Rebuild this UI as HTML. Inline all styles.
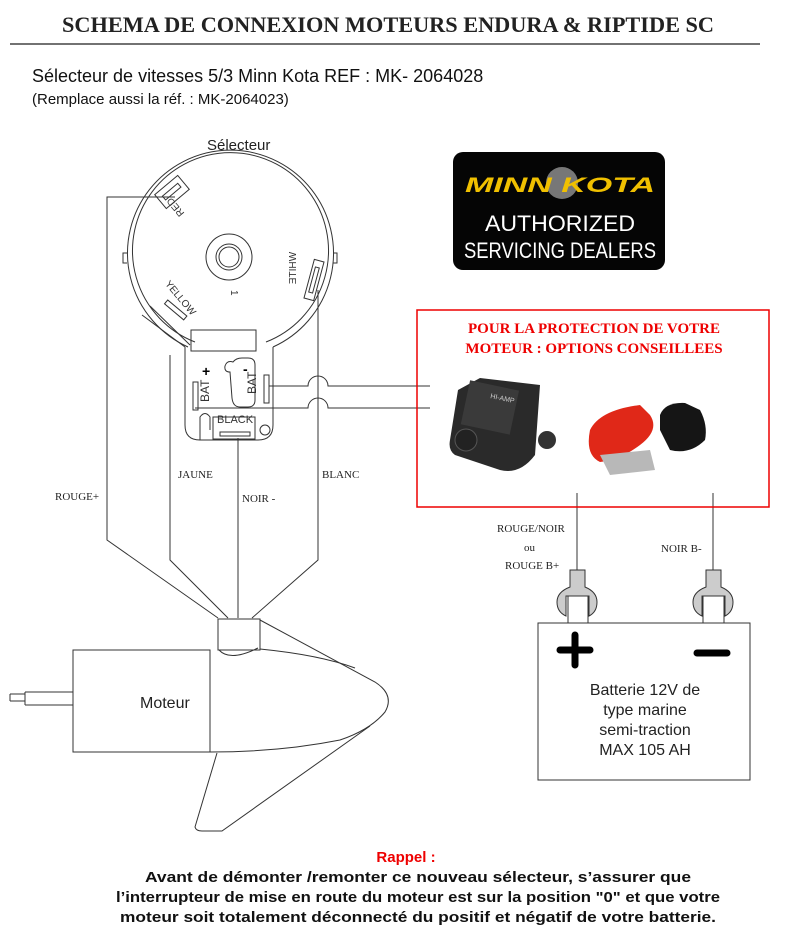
<!DOCTYPE html>
<html><head><meta charset="utf-8"><style>
body{margin:0;background:#fff;}
svg{display:block;}
.s{font-family:"Liberation Sans",sans-serif;}
.r{font-family:"Liberation Serif",serif;}
</style></head><body>
<svg width="786" height="928" viewBox="0 0 786 928" xmlns="http://www.w3.org/2000/svg">
<text x="388" y="32" text-anchor="middle" class="r" font-size="22" font-weight="bold" fill="#222" textLength="652" lengthAdjust="spacingAndGlyphs">SCHEMA DE CONNEXION MOTEURS ENDURA &amp; RIPTIDE SC</text>
<line x1="10" y1="44" x2="760" y2="44" stroke="#444" stroke-width="1.5"/>
<text x="32" y="82" class="s" font-size="18" fill="#111">Sélecteur de vitesses 5/3 Minn Kota REF : MK- 2064028</text>
<text x="32" y="104" class="s" font-size="15" fill="#111">(Remplace aussi la réf. : MK-2064023)</text>
<text x="207" y="150" class="s" font-size="15" fill="#222">Sélecteur</text>

<g fill="none" stroke="#333" stroke-width="1">
<path d="M188,347 A103,103 0 1 1 273,347"/>
<path d="M195,342 A98,98 0 1 1 266,342"/>
<circle cx="229" cy="257" r="23"/>
<circle cx="229" cy="257" r="13"/>
<circle cx="229" cy="257" r="10"/>
<path d="M127,253 h-4 v10 h4 M333,253 h4 v10 h-4"/>
<path d="M185,347 L185,425 Q185,440 200,440 L258,440 Q273,440 273,425 L273,347"/>
<rect x="191" y="330" width="65" height="21"/>
<path d="M142,315 L185,347 M150,306 L190,345"/>
<rect x="157" y="183" width="30" height="18" transform="rotate(-40 172 192)"/>
<rect x="162" y="189" width="20" height="5" transform="rotate(-40 172 192)"/>
<rect x="309" y="260" width="10" height="40" transform="rotate(15 314 280)"/>
<rect x="312" y="267" width="4" height="26" transform="rotate(15 314 280)"/>
<rect x="163" y="307" width="25" height="5" transform="rotate(40 175 310)"/>
<rect x="193" y="382" width="5" height="28"/>
<rect x="264" y="375" width="5" height="28"/>
<path d="M233,362 Q236,358 242,358 L248,358 Q255,358 255,365 L255,400 Q255,407 248,407 L240,407 Q233,407 232,398 L230,372 Q224,372 225,366 Q227,360 233,362Z"/>
<path d="M200,440 L200,417 Q205,410 210,417 L210,430"/>
<circle cx="265" cy="430" r="5"/>
<rect x="213" y="417" width="42" height="22"/>
<rect x="220" y="432" width="30" height="4"/>
<path d="M175,197 H107 V540 L218,618"/>
<path d="M170,355 V560 L228,618"/>
<path d="M238,438 V618"/>
<path d="M318,290 V560 L252,618"/>
<path d="M269,386 H308 A10,10 0 0 1 328,386 H430"/>
<path d="M195,408 H308 A10,10 0 0 1 328,408 H430"/>
<rect x="218" y="619" width="42" height="31"/>
<path d="M219,650 Q230,662 258,648"/>
<rect x="73" y="650" width="137" height="102"/>
<path d="M210,650 V752"/>
<path d="M25,692 H73 M25,705 H73 M25,692 V705 M10,694 H25 M10,701 H25 M10,694 V701"/>
<path d="M260,620 L375,682 Q395,695 385,712 Q370,730 340,740 Q280,752 210,752"/>
<path d="M260,649 Q320,655 355,668"/>
<path d="M217,753 L195,827 Q196,831 202,831 L222,831 L370,726"/>
<path d="M577,493 V572 M713,493 V572"/>
<rect x="538" y="623" width="212" height="157"/>
</g>
<g fill="#ccc" stroke="#333">
<path d="M570,570 H585 V587 Q597,592 597,602 Q597,612 589,616 L589,596 H566 V616 Q557,612 557,602 Q557,592 570,587Z"/>
<path d="M706,570 H721 V587 Q733,592 733,602 Q733,612 725,616 L725,596 H702 V616 Q693,612 693,602 Q693,592 706,587Z"/>
</g>
<g fill="#fff" stroke="#333"><rect x="568" y="596" width="20" height="27"/><rect x="703" y="596" width="21" height="27"/></g>
<path d="M560,650 H590 M575,635 V665" stroke="#000" stroke-width="7" stroke-linecap="round"/>
<path d="M697,653 H727" stroke="#000" stroke-width="7" stroke-linecap="round"/>
<g class="s" font-size="16" fill="#222" text-anchor="middle">
<text x="645" y="695">Batterie 12V de</text><text x="645" y="715">type marine</text><text x="645" y="735">semi-traction</text><text x="645" y="755">MAX 105 AH</text>
</g>
<text x="140" y="708" class="s" font-size="16" fill="#222">Moteur</text>

<g class="s" fill="#333" font-size="10">
<text x="0" y="0" transform="translate(178,205) rotate(-130)" text-anchor="middle">RED</text>
<text x="0" y="0" transform="translate(296,268) rotate(-90) scale(-1,1)" text-anchor="middle">WHITE</text>
<text x="0" y="0" transform="translate(178,300) rotate(50)" text-anchor="middle">YELLOW</text>
<text x="0" y="0" transform="translate(231,290) rotate(90)">1</text>
<text x="0" y="0" transform="translate(209,402) rotate(-90)" font-size="12">BAT</text>
<text x="0" y="0" transform="translate(256,394) rotate(-90)" font-size="12">BAT</text>
<text x="217" y="423" font-size="11">BLACK</text>
</g>
<text x="202" y="376" class="s" font-size="14" font-weight="bold">+</text>
<text x="243" y="374" class="s" font-size="14" font-weight="bold">-</text>

<g class="r" font-size="11" fill="#222">
<text x="55" y="500">ROUGE+</text>
<text x="178" y="478">JAUNE</text>
<text x="242" y="502">NOIR -</text>
<text x="322" y="478">BLANC</text>
<text x="497" y="532">ROUGE/NOIR</text>
<text x="524" y="551">ou</text>
<text x="505" y="569">ROUGE B+</text>
<text x="661" y="552">NOIR B-</text>
</g>

<rect x="453" y="152" width="212" height="118" rx="10" fill="#050505"/>
<circle cx="562" cy="183" r="16" fill="#777"/>
<text x="560" y="192" text-anchor="middle" class="s" font-size="21" font-style="italic" font-weight="bold" fill="#f0c000" textLength="190" lengthAdjust="spacingAndGlyphs">MINN KOTA</text>
<text x="560" y="231" text-anchor="middle" class="s" font-size="22" fill="#fff" textLength="150" lengthAdjust="spacingAndGlyphs">AUTHORIZED</text>
<text x="560" y="258" text-anchor="middle" class="s" font-size="22" fill="#fff" textLength="192" lengthAdjust="spacingAndGlyphs">SERVICING DEALERS</text>

<rect x="417" y="310" width="352" height="197" fill="none" stroke="#e00" stroke-width="1.5"/>
<text x="594" y="333" text-anchor="middle" class="r" font-size="15" font-weight="bold" fill="#e00">POUR LA PROTECTION DE VOTRE</text>
<text x="594" y="353" text-anchor="middle" class="r" font-size="15" font-weight="bold" fill="#e00">MOTEUR : OPTIONS CONSEILLEES</text>
<g>
<path d="M480,378 L540,385 L535,455 Q520,475 500,470 L455,455 Q448,450 450,440 L458,390Z" fill="#2a2a2a"/>
<rect x="465" y="385" width="50" height="45" fill="#3a3a3a" transform="rotate(12 490 407)"/>
<circle cx="466" cy="440" r="11" fill="#222" stroke="#555"/>
<circle cx="547" cy="440" r="9" fill="#333"/>
<text x="490" y="398" class="s" font-size="7" fill="#ccc" transform="rotate(12 490 398)">HI-AMP</text>
</g>
<path d="M590,430 Q600,410 640,405 L650,415 Q660,430 640,445 Q620,460 600,462 Q585,455 590,430Z" fill="#e02818"/>
<path d="M600,455 L650,450 L655,470 L610,475Z" fill="#b8b8b8"/>
<path d="M660,415 Q665,402 685,403 L700,410 Q708,425 705,440 Q690,455 670,450 L660,430Z" fill="#151515"/>

<g class="s" font-weight="bold" font-size="15" text-anchor="middle">
<text x="406" y="862" fill="#e00">Rappel :</text>
<text x="418" y="882" fill="#111" textLength="546" lengthAdjust="spacingAndGlyphs">Avant de démonter /remonter ce nouveau sélecteur, s’assurer que</text>
<text x="418" y="902" fill="#111" textLength="604" lengthAdjust="spacingAndGlyphs">l’interrupteur de mise en route du moteur est sur la position "0" et que votre</text>
<text x="418" y="922" fill="#111" textLength="596" lengthAdjust="spacingAndGlyphs">moteur soit totalement déconnecté du positif et négatif de votre batterie.</text>
</g>
</svg>
</body></html>
